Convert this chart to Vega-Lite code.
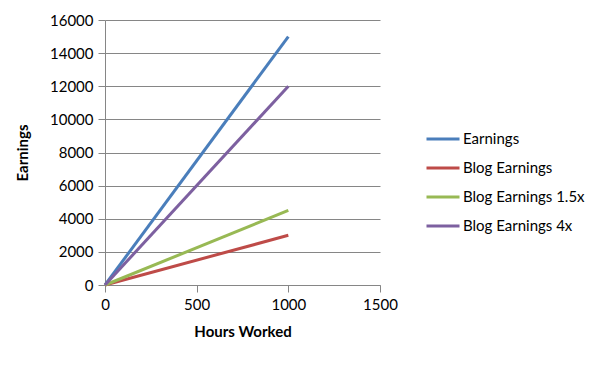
{
  "$schema": "https://vega.github.io/schema/vega-lite/v6.json",
  "width": 275,
  "height": 265,
  "autosize": {"type": "none"},
  "padding": {"left": 105, "top": 20, "right": 223, "bottom": 80},
  "background": "white",
  "config": {
    "font": "Lato",
    "view": {"stroke": null}
  },
  "data": {
    "values": [
      {"hours": 0, "earnings": 0, "series": "Earnings"},
      {"hours": 1000, "earnings": 15000, "series": "Earnings"},
      {"hours": 0, "earnings": 0, "series": "Blog Earnings"},
      {"hours": 1000, "earnings": 3000, "series": "Blog Earnings"},
      {"hours": 0, "earnings": 0, "series": "Blog Earnings 1.5x"},
      {"hours": 1000, "earnings": 4500, "series": "Blog Earnings 1.5x"},
      {"hours": 0, "earnings": 0, "series": "Blog Earnings 4x"},
      {"hours": 1000, "earnings": 12000, "series": "Blog Earnings 4x"}
    ]
  },
  "mark": {"type": "line", "strokeWidth": 3},
  "encoding": {
    "x": {
      "field": "hours", "type": "quantitative",
      "scale": {"domain": [0, 1500], "nice": false},
      "axis": {
        "values": [0, 500, 1000, 1500],
        "format": "d",
        "title": "Hours Worked",
        "titleFont": "Lato", "titleFontSize": 15, "titleFontWeight": "bold", "titleColor": "black",
        "titlePadding": 12,
        "labelFontSize": 15, "labelColor": "black", "labelPadding": 5,
        "tickSize": 7, "tickColor": "#868686", "domainColor": "#868686",
        "grid": false, "labelFlush": false
      }
    },
    "y": {
      "field": "earnings", "type": "quantitative",
      "scale": {"domain": [0, 16000], "nice": false},
      "axis": {
        "values": [0, 2000, 4000, 6000, 8000, 10000, 12000, 14000, 16000],
        "format": "d",
        "title": "Earnings",
        "titleFont": "Lato", "titleFontSize": 15, "titleFontWeight": "bold", "titleColor": "black",
        "titlePadding": 19,
        "labelFontSize": 15, "labelColor": "black", "labelPadding": 5,
        "tickSize": 7, "tickColor": "#868686", "domainColor": "#868686",
        "grid": true, "gridColor": "#868686", "gridOpacity": 1
      }
    },
    "color": {
      "field": "series", "type": "nominal",
      "scale": {
        "domain": ["Earnings", "Blog Earnings", "Blog Earnings 1.5x", "Blog Earnings 4x"],
        "range": ["#4A7EBB", "#BE4B48", "#98B954", "#7D60A0"]
      },
      "legend": {
        "orient": "none", "legendX": 320, "legendY": 101,
        "title": null,
        "symbolType": "stroke", "symbolSize": 1089, "symbolStrokeWidth": 3,
        "labelFontSize": 15, "labelColor": "black", "labelOffset": 2,
        "rowPadding": 3
      }
    }
  }
}
